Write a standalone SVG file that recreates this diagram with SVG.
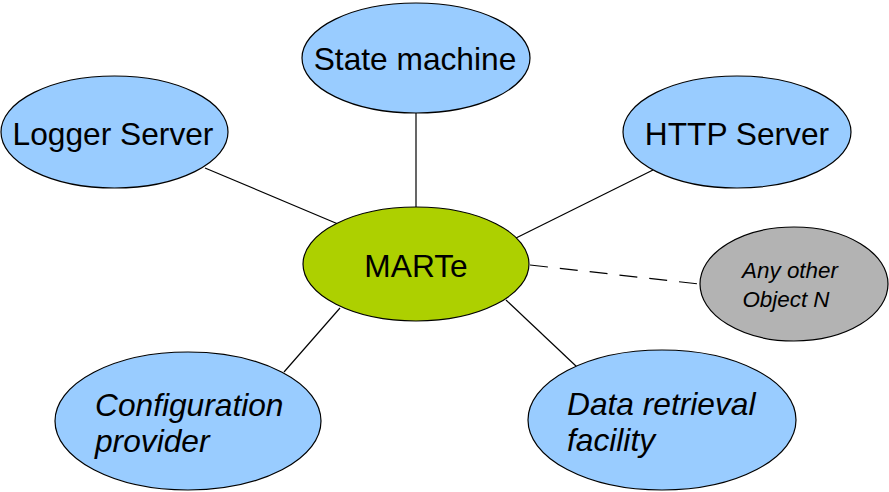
<svg xmlns="http://www.w3.org/2000/svg" width="889" height="492" viewBox="0 0 889 492">
<style>
.n{stroke:#000;stroke-width:1.2}
.b{fill:#99ccff}
.t{font-family:"Liberation Sans",Arial,sans-serif;font-size:31.7px;fill:#000}
.i{font-style:italic}
.s{font-size:22.4px}
.c line{stroke:#000;stroke-width:1.2}
</style>
<rect width="889" height="492" fill="#fff"/>
<g class="c" id="connectors">
<line x1="416" y1="113" x2="416" y2="207"/>
<line x1="205" y1="168" x2="338" y2="224"/>
<line x1="653" y1="170" x2="516" y2="238"/>
<line x1="284" y1="372" x2="340" y2="308"/>
<line x1="577" y1="367" x2="506" y2="300"/>
<line x1="530" y1="265" x2="699" y2="284" stroke-dasharray="18,12"/>
</g>
<g id="state-machine"><ellipse class="n b" cx="416" cy="58" rx="114" ry="55"/><text class="t" x="415" y="70" text-anchor="middle">State machine</text></g>
<g id="logger-server"><ellipse class="n b" cx="114.5" cy="132" rx="113.5" ry="56"/><text class="t" x="113" y="145" text-anchor="middle">Logger Server</text></g>
<g id="http-server"><ellipse class="n b" cx="737" cy="132" rx="114" ry="56"/><text class="t" x="737" y="145" text-anchor="middle">HTTP Server</text></g>
<g id="marte"><ellipse class="n" fill="#add000" cx="416" cy="264" rx="113" ry="57"/><text class="t" x="416" y="277" text-anchor="middle">MARTe</text></g>
<g id="any-other"><ellipse class="n" fill="#b3b3b3" cx="794" cy="284" rx="94" ry="57"/><text class="t i s" x="790" y="278" text-anchor="middle">Any other</text><text class="t i s" x="786" y="307" text-anchor="middle">Object N</text></g>
<g id="configuration-provider"><ellipse class="n b" cx="188" cy="421" rx="133" ry="69"/><text class="t i" x="95" y="416">Configuration</text><text class="t i" x="95" y="452">provider</text></g>
<g id="data-retrieval"><ellipse class="n b" cx="662" cy="420" rx="134" ry="70"/><text class="t i" x="567" y="415">Data retrieval</text><text class="t i" x="567" y="451">facility</text></g>
</svg>
